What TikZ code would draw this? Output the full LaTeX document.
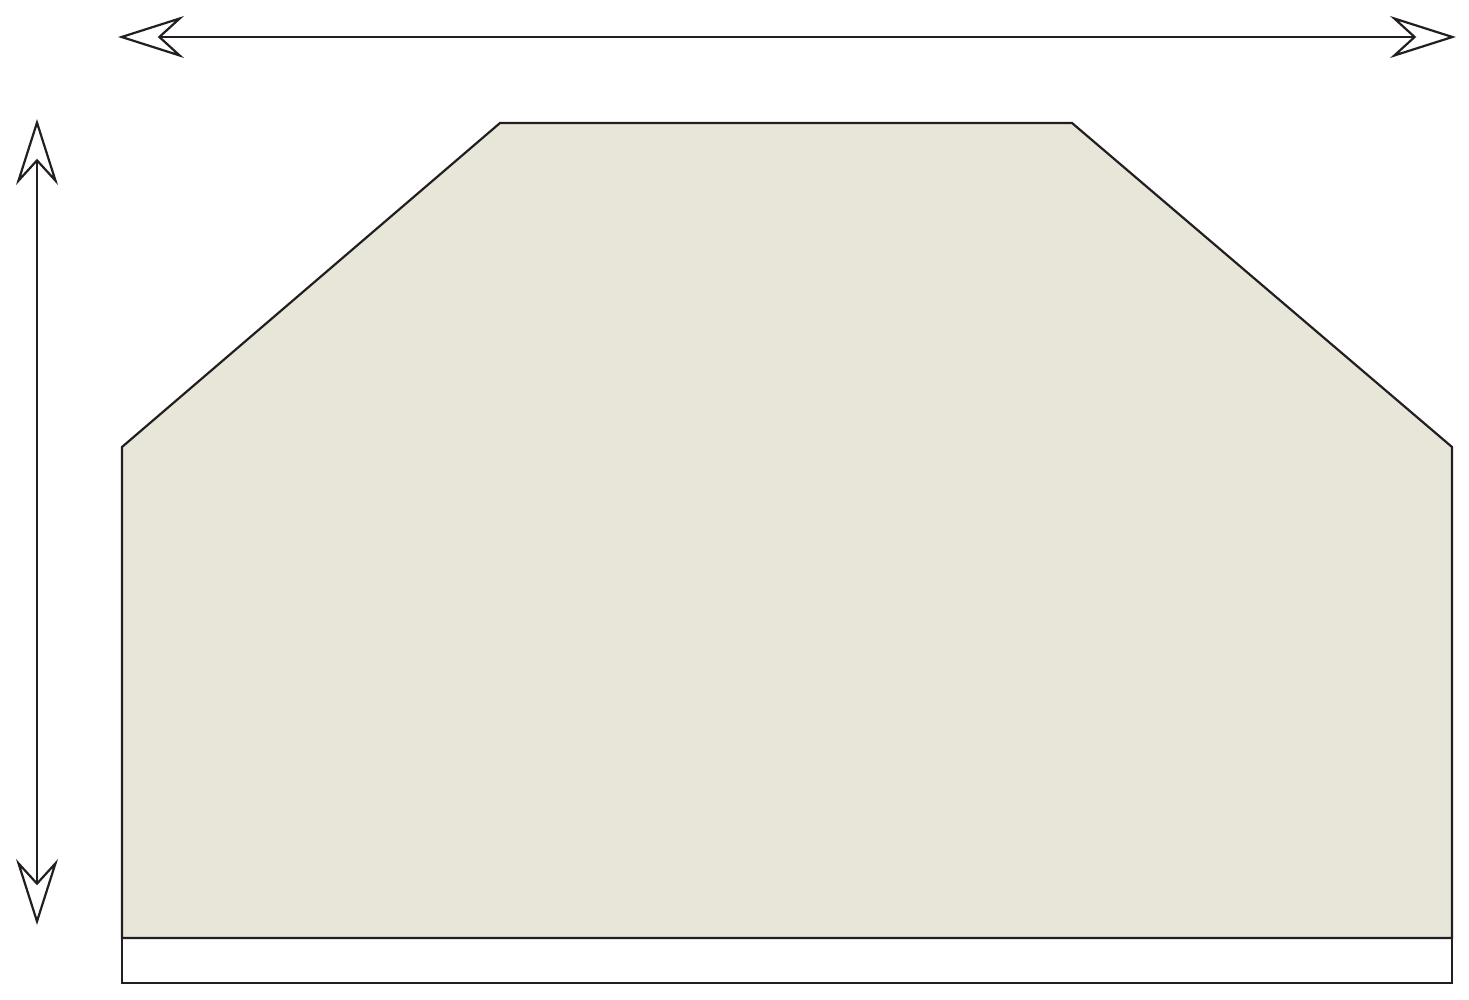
\documentclass[tikz,border=0pt]{standalone}
\usetikzlibrary{arrows.meta}
\definecolor{panel}{HTML}{E8E5D9}
\definecolor{ink}{HTML}{231F20}
\begin{document}
\begin{tikzpicture}[x=1pt,y=-1pt,
  dimarrow/.style={draw=ink,line width=2.2pt,
    {Stealth[open,length=66pt,width=42pt,inset=23pt,line width=2.2pt]}-{Stealth[open,length=66pt,width=42pt,inset=23pt,line width=2.2pt]}},
  outline/.style={draw=ink,line width=2.2pt,line join=miter}]
\useasboundingbox (0,0) rectangle (1469,1000);
\coordinate (hl) at (118,37);
\coordinate (hr) at (1456,37);
\coordinate (vt) at (37,119);
\coordinate (vb) at (37,925);
\coordinate (p1) at (122,447);
\coordinate (p2) at (500,123);
\coordinate (p3) at (1072,123);
\coordinate (p4) at (1452,447);
\coordinate (p5) at (1452,938);
\coordinate (p6) at (122,938);
\coordinate (b1) at (122,983);
\coordinate (b2) at (1452,983);
\fill[white] (p6) rectangle (b2);
\path[outline,fill=panel] (p1) -- (p2) -- (p3) -- (p4) -- (p5) -- (p6) -- cycle;
\draw[outline] (p6) -- (b1) -- (b2) -- (p5);
\draw[dimarrow] (hl) -- (hr);
\draw[dimarrow] (vt) -- (vb);
\end{tikzpicture}
\end{document}
